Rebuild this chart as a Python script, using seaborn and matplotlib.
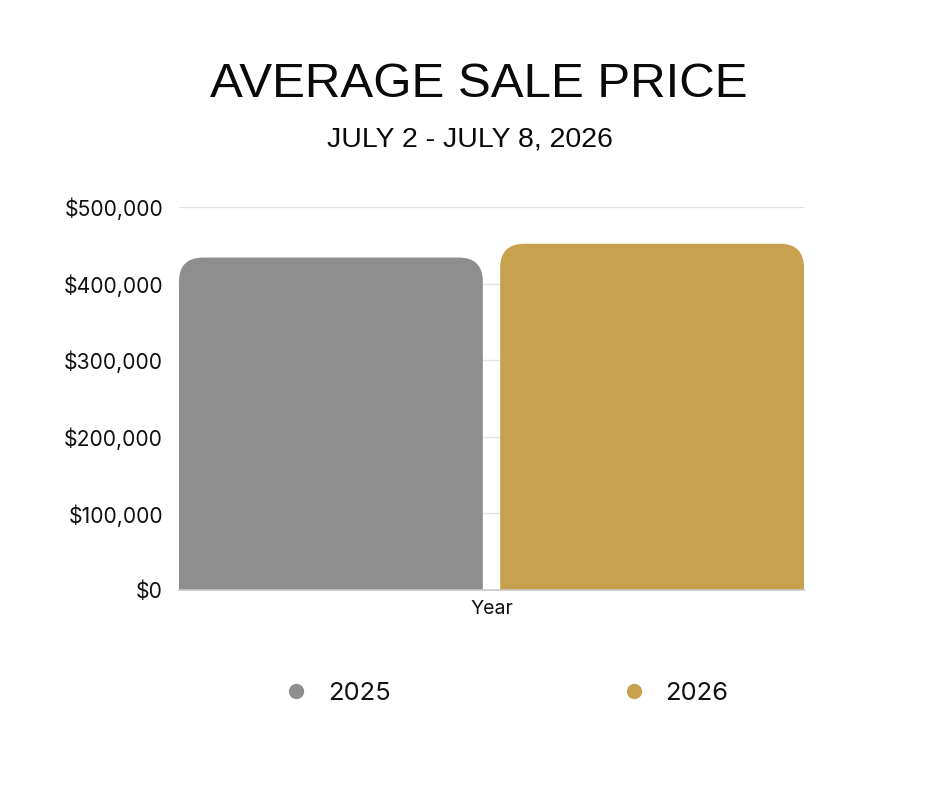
import matplotlib
matplotlib.use("Agg")
import matplotlib.pyplot as plt
from matplotlib.patches import FancyBboxPatch
from matplotlib.lines import Line2D
from matplotlib.ticker import FuncFormatter
import seaborn as sns
import pandas as pd

years = ["2025", "2026"]
prices = [434000, 452000]
colors = ["#8e8e8e", "#c8a14e"]
title = "AVERAGE SALE PRICE"
subtitle = "JULY 2 - JULY 8, 2026"
xlabel = "Year"
yticks = [0, 100000, 200000, 300000, 400000, 500000]

sns.set_theme(style="white")
plt.rcParams["font.family"] = ["Inter", "DejaVu Sans"]

df = pd.DataFrame({"Year": ["Year"] * len(years), "Price": prices, "Series": years})

fig = plt.figure(figsize=(9.4, 7.88), dpi=100)
ax = fig.add_axes([179 / 940, 1 - 590 / 788, (804 - 179) / 940, (590 - 207) / 788])

gap = 0.054
sns.barplot(data=df, x="Year", y="Price", hue="Series", palette=colors,
            width=1.0, gap=gap, dodge=True, legend=False, ax=ax,
            saturation=1, errorbar=None)

half = 0.5 * gap / 2
ax.set_xlim(-0.5 + half, 0.5 - half)
ax.set_ylim(0, 500000)
ax.set_yticks(yticks)
ax.yaxis.set_major_formatter(FuncFormatter(lambda v, p: f"${v:,.0f}"))
ax.set_xticks([])
ax.set_xlabel(xlabel, fontsize=14, color="#111111", labelpad=7.5)
ax.set_ylabel("")
ax.tick_params(axis="y", labelsize=15.2, colors="#111111", length=0, pad=11.5)
ax.yaxis.grid(True, color="#e3e3e3", linewidth=1)
ax.set_axisbelow(True)
for s in ["left", "right", "top"]:
    ax.spines[s].set_visible(False)
ax.spines["bottom"].set_color("#c8c8c8")
ax.spines["bottom"].set_linewidth(1.2)

# rounded top corners
fig.canvas.draw()
inv = ax.transData.inverted()
p0 = inv.transform((0, 0))
p1 = inv.transform((1, 1))
dx_per_px = p1[0] - p0[0]
dy_per_px = p1[1] - p0[1]
r_px = 24
rx = r_px * dx_per_px
ry = r_px * dy_per_px
bars = list(ax.patches)
for b in bars:
    x, y = b.get_x(), b.get_y()
    w, h = b.get_width(), b.get_height()
    fc = b.get_facecolor()
    b.remove()
    fb = FancyBboxPatch((x, y - ry), w, h + ry,
                        boxstyle=f"round,pad=0,rounding_size={rx}",
                        mutation_aspect=ry / rx, facecolor=fc,
                        edgecolor="none", zorder=2, clip_on=True)
    ax.add_patch(fb)

fig.text(479 / 940, 1 - 97 / 788, title, ha="center", va="baseline",
         fontsize=35.5, family=["Liberation Sans", "DejaVu Sans"], color="#0a0a0a")
fig.text(470 / 940, 1 - 147 / 788, subtitle, ha="center", va="baseline",
         fontsize=20.5, family=["Liberation Sans", "DejaVu Sans"], color="#0a0a0a")

handles = [Line2D([], [], marker="o", linestyle="", markersize=10,
                  markerfacecolor=c, markeredgecolor=c) for c in colors]
fig.legend(handles, years, loc="center", bbox_to_anchor=(506 / 940, 1 - 693 / 788),
           ncol=2, frameon=False, fontsize=18.4, columnspacing=9.0,
           handletextpad=0.75, handlelength=1.0, labelcolor="#111111")

fig.savefig("out.png", dpi=100, facecolor="white")
